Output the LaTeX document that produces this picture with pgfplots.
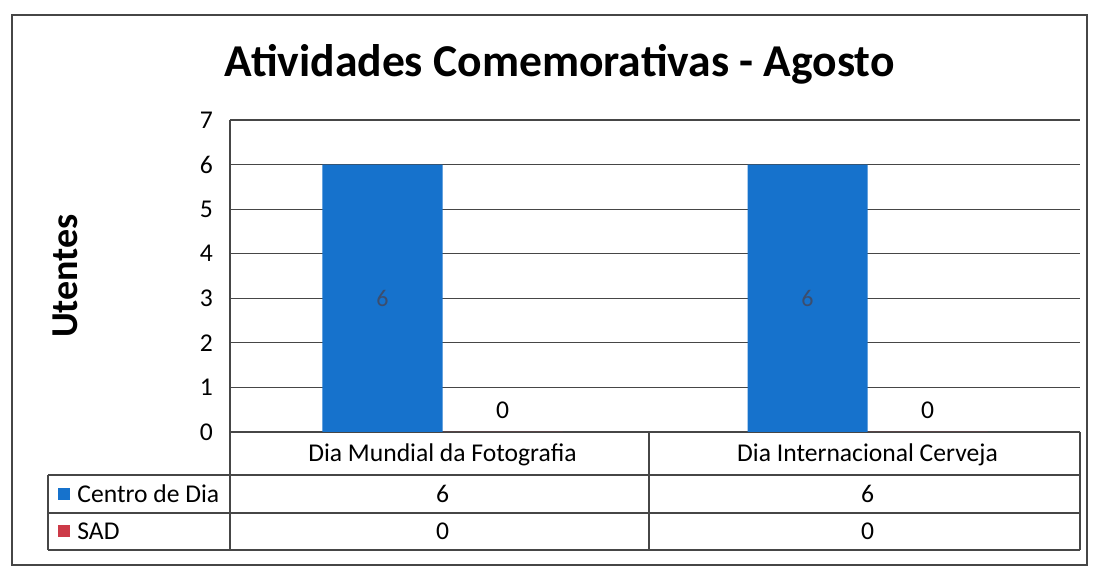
\documentclass[border=0pt]{standalone}
\usepackage{fontspec}
\setmainfont{Carlito}
\usepackage{pgfplots}
\pgfplotsset{compat=1.18}
\definecolor{cblue}{RGB}{22,114,204}
\definecolor{cred}{RGB}{204,58,72}
\definecolor{lbl}{RGB}{60,78,110}
\definecolor{gridc}{RGB}{70,70,70}
\newcommand{\tf}{\fontsize{12.8}{15}\selectfont}
\begin{document}
\begin{tikzpicture}
\useasboundingbox (-115pt,-70pt) rectangle (433.5pt,216pt);
\begin{axis}[
  at={(0,0)}, anchor=south west,
  scale only axis, width=425pt, height=156pt,
  ybar=0pt, bar width=60pt,
  xmin=-0.5, xmax=1.5, ymin=0, ymax=7,
  ytick={0,...,7}, xtick={0,1},
  xticklabels={Dia Mundial da Fotografia, Dia Internacional Cerveja},
  xticklabel style={anchor=center, yshift=-11.5pt, font=\tf},
  yticklabel style={font=\tf, xshift=-5pt},
  /pgf/number format/assume math mode=true,
  major tick length=0pt,
  ymajorgrids, grid style={gridc, line width=0.6pt},
  axis x line*=bottom, axis y line*=left,
  axis line style={gridc, line width=0.6pt},
  clip=false,
  ylabel={\bfseries Utentes},
  ylabel style={font=\fontsize{19}{21}\selectfont, at={(axis description cs:-0.171,0.5)}},
  title={\bfseries Atividades Comemorativas - Agosto},
  title style={font=\fontsize{22.8}{26}\selectfont, at={(axis description cs:0.388,1.0)}, anchor=center, yshift=22pt},
  nodes near coords,
  every node near coord/.append style={font=\tf, text=black},
]
\addplot[fill=cblue, draw=none,
  every node near coord/.append style={shift={(axis direction cs:0,-3)}, anchor=center, text=lbl, font=\fontsize{12}{14}\selectfont}]
  coordinates {(0,6) (1,6)};
\addplot[fill=cred, draw=none,
  every node near coord/.append style={yshift=3pt}]
  coordinates {(0,0) (1,0)};
% data table text
\node[font=\tf] at (axis cs:0,0) [yshift=-31pt] {6};
\node[font=\tf] at (axis cs:1,0) [yshift=-31pt] {6};
\node[font=\tf] at (axis cs:0,0) [yshift=-49.75pt] {0};
\node[font=\tf] at (axis cs:1,0) [yshift=-49.75pt] {0};
\end{axis}
% table lines
\draw[gridc, line width=0.6pt] (-91pt,-21.5pt) -- (425pt,-21.5pt);
\draw[gridc, line width=0.6pt] (-91pt,-40.5pt) -- (425pt,-40.5pt);
\draw[gridc, line width=0.6pt] (-91pt,-59pt) -- (425pt,-59pt);
\draw[gridc, line width=0.6pt] (-91pt,-21.5pt) -- (-91pt,-59pt);
\draw[gridc, line width=0.6pt] (0pt,0pt) -- (0pt,-59pt);
\draw[gridc, line width=0.6pt] (209.5pt,0pt) -- (209.5pt,-59pt);
\draw[gridc, line width=0.6pt] (425pt,0pt) -- (425pt,-59pt);
% legend keys
\fill[cblue] (-86pt,-34pt) rectangle (-80pt,-28pt);
\node[anchor=west, font=\tf, inner sep=0pt] at (-76.5pt,-31pt) {Centro de Dia};
\fill[cred] (-86pt,-52.5pt) rectangle (-80pt,-46.5pt);
\node[anchor=west, font=\tf, inner sep=0pt] at (-76.5pt,-49.5pt) {SAD};
% outer frame
\draw[gridc, line width=0.6pt] (-109pt,-66.5pt) rectangle (428.5pt,208.5pt);
\end{tikzpicture}
\end{document}
